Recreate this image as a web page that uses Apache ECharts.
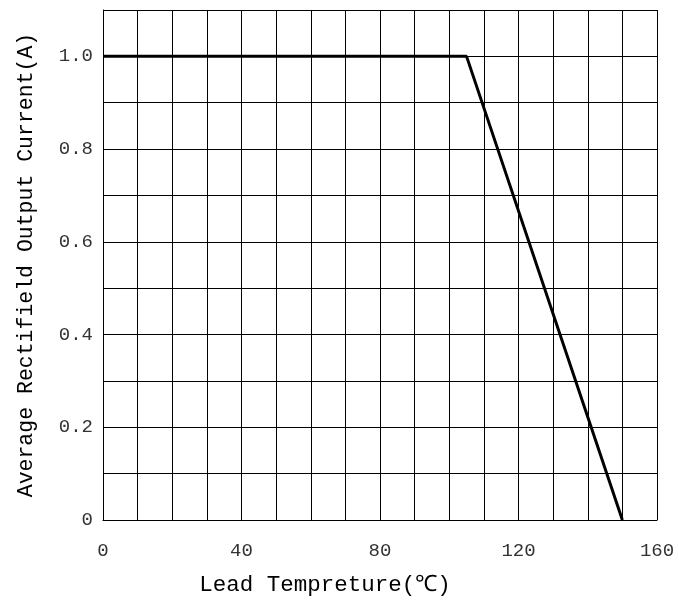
<!DOCTYPE html>
<html>
<head>
<meta charset="utf-8">
<script src="https://cdn.jsdelivr.net/npm/echarts@6/dist/echarts.min.js"></script>
<style>
  html, body { margin: 0; padding: 0; background: #fff; }
  #main { width: 679px; height: 602px; }
</style>
</head>
<body>
<div id="main"></div>
<script>
var dom = document.getElementById('main');
var myChart = echarts.init(dom);

// derating curve: temperature (C) vs current (A)
var temps = [0, 105, 150];
var currents = [1.0, 1.0, 0];

var xName = 'Lead Tempreture(℃)';
var yName = 'Average Rectifield Output Current(A)';

var font = '"Liberation Mono", monospace';

var option = {
    backgroundColor: '#fff',
    animation: false,
    grid: { left: 103, right: 22, top: 10, bottom: 80 },
    xAxis: {
        type: 'value',
        min: 0,
        max: 160,
        interval: 40,
        name: xName,
        nameLocation: 'middle',
        nameGap: 54,
        nameTextStyle: {
            color: '#000', fontSize: 22.5, fontFamily: font,
            padding: [0, 110, 0, 0]
        },
        axisLine: { show: true, lineStyle: { color: '#000', width: 1 } },
        axisTick: { show: false },
        axisLabel: { color: '#333', fontSize: 19, fontFamily: font, margin: 21 },
        splitLine: { show: true, lineStyle: { color: '#000', width: 1 } },
        minorTick: { show: false, splitNumber: 4 },
        minorSplitLine: { show: true, lineStyle: { color: '#000', width: 1 } }
    },
    yAxis: {
        type: 'value',
        min: 0,
        max: 1.1,
        interval: 0.1,
        name: yName,
        nameLocation: 'middle',
        nameRotate: 90,
        nameGap: 66,
        nameTextStyle: { color: '#000', fontSize: 21.5, fontFamily: font },
        axisLine: { show: true, lineStyle: { color: '#000', width: 1 } },
        axisTick: { show: false },
        axisLabel: {
            color: '#333', fontSize: 19, fontFamily: font, margin: 10,
            formatter: function (v) {
                var r = Math.round(v * 10);
                if (r % 2 !== 0) return '';
                return r === 0 ? '0' : (r / 10).toFixed(1);
            }
        },
        splitLine: { show: true, lineStyle: { color: '#000', width: 1 } }
    },
    series: [{
        type: 'line',
        data: temps.map(function (t, i) { return [t, currents[i]]; }),
        symbol: 'none',
        lineStyle: { color: '#000', width: 3 }
    }]
};

myChart.setOption(option);
</script>
</body>
</html>
